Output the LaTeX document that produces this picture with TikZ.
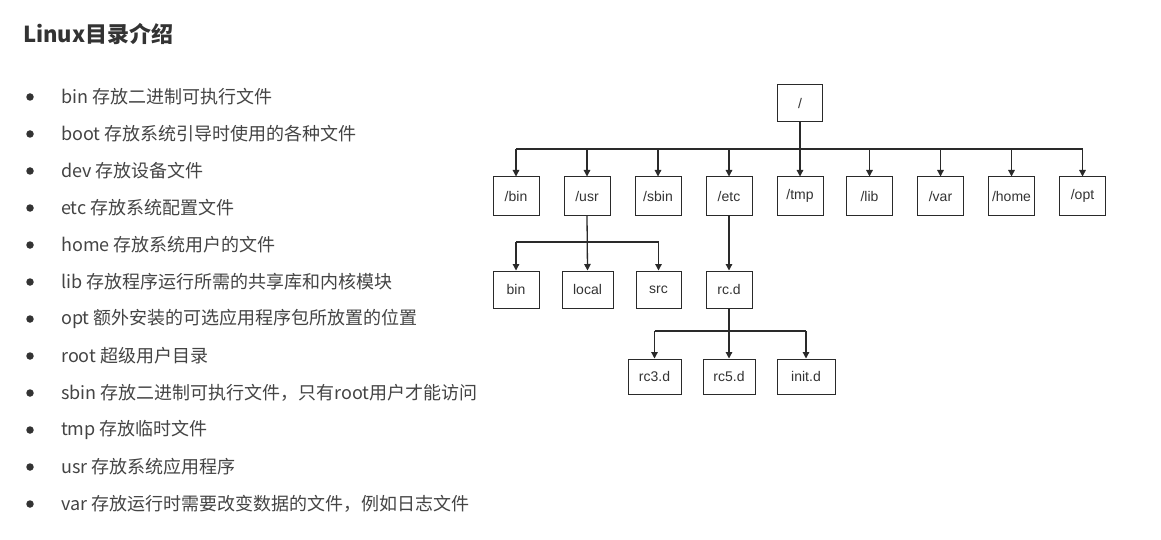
\documentclass[tikz,border=0pt]{standalone}
\usepackage{fontspec}
\setmainfont{Liberation Sans}
\newfontfamily\cjk{Noto Sans CJK SC}
\usetikzlibrary{arrows.meta}
\definecolor{txt}{HTML}{444444}
\definecolor{ttl}{HTML}{333333}
\definecolor{ln}{HTML}{2A2A2A}
\tikzset{
  dirbox/.style={draw=ln, line width=1pt, minimum height=38pt, minimum width=46pt, inner sep=0pt,
    font=\fontsize{14}{16}\selectfont, text=black!80},
  conn/.style={draw=ln, line width=1.3pt},
  arr/.style={conn, -{Triangle[length=6.5pt,width=6.5pt]}},
  item/.style={anchor=west, inner sep=0pt, text=txt, font=\cjk\fontsize{18}{21}\selectfont},
  bul/.style={circle, fill=ttl, inner sep=0pt, minimum size=7.5pt}
}
\begin{document}
\begin{tikzpicture}[x=1pt,y=-1pt]
\useasboundingbox[fill=white] (0,0) rectangle (1161,540);
% title
\node[anchor=west, inner sep=0pt, text=ttl, font=\cjk\bfseries\fontsize{22}{26}\selectfont] (title) at (23,34) {Linux目录介绍};
% list
\foreach \t [count=\i from 0] in {
  {bin 存放二进制可执行文件},
  {boot 存放系统引导时使用的各种文件},
  {dev 存放设备文件},
  {etc 存放系统配置文件},
  {home 存放系统用户的文件},
  {lib 存放程序运行所需的共享库和内核模块},
  {opt 额外安装的可选应用程序包所放置的位置},
  {root 超级用户目录},
  {sbin 存放二进制可执行文件，只有root用户才能访问},
  {tmp 存放临时文件},
  {usr 存放系统应用程序},
  {var 存放运行时需要改变数据的文件，例如日志文件}} {
  \node[bul] (b\i) at (30,{97+37*\i}) {};
  \node[item] (it\i) at (61,{97+37*\i}) {\t};
}
% tree
\node[dirbox, minimum width=45pt, minimum height=37pt] (root) at (800,103.5) {/};
\node[dirbox] (bin) at (516,196) {/bin};
\node[dirbox] (usr) at (587,196) {/usr};
\node[dirbox] (sbin) at (658,196) {/sbin};
\node[dirbox] (etc) at (729,196) {/etc};
\node[dirbox] (tmp) at (800,196) {/tmp};
\node[dirbox] (lib) at (869.5,196) {/lib};
\node[dirbox] (var) at (940.5,196) {/var};
\node[dirbox] (home) at (1011.5,196) {/home};
\node[dirbox] (opt) at (1082.5,196) {/opt};
\node[dirbox, minimum height=37pt] (ubin) at (516,289.5) {bin};
\node[dirbox, minimum height=37pt, minimum width=51pt] (local) at (587.5,289.5) {local};
\node[dirbox, minimum height=37pt, minimum width=45pt] (src) at (658.5,289.5) {src};
\node[dirbox, minimum height=37pt] (rcd) at (729,289.5) {rc.d};
\node[dirbox, minimum height=35pt, minimum width=53pt] (rc3) at (654.5,376.5) {rc3.d};
\node[dirbox, minimum height=35pt, minimum width=52pt] (rc5) at (729,376.5) {rc5.d};
\node[dirbox, minimum height=35pt, minimum width=58pt] (init) at (806,376.5) {init.d};
\coordinate (bus) at (0,149);
\coordinate (ubus) at (0,242);
\coordinate (rbus) at (0,331);
% root level
\draw[arr] (root.south) -- (tmp.north);
\draw[conn] (bin.north |- bus) -- (opt.north |- bus);
\foreach \n in {bin,usr,sbin,etc,lib,var,home,opt}
  \draw[arr] (\n.north |- bus) -- (\n.north);
% usr
\draw[arr] (usr.south) -- (local.north);
\draw[conn] (ubin.north |- ubus) -- (src.north |- ubus);
\draw[arr] (ubin.north |- ubus) -- (ubin.north);
\draw[arr] (src.north |- ubus) -- (src.north);
% etc
\draw[arr] (etc.south) -- (rcd.north);
\draw[arr] (rcd.south) -- (rc5.north);
\draw[conn] (rc3.north |- rbus) -- (init.north |- rbus);
\draw[arr] (rc3.north |- rbus) -- (rc3.north);
\draw[arr] (init.north |- rbus) -- (init.north);
\end{tikzpicture}
\end{document}
